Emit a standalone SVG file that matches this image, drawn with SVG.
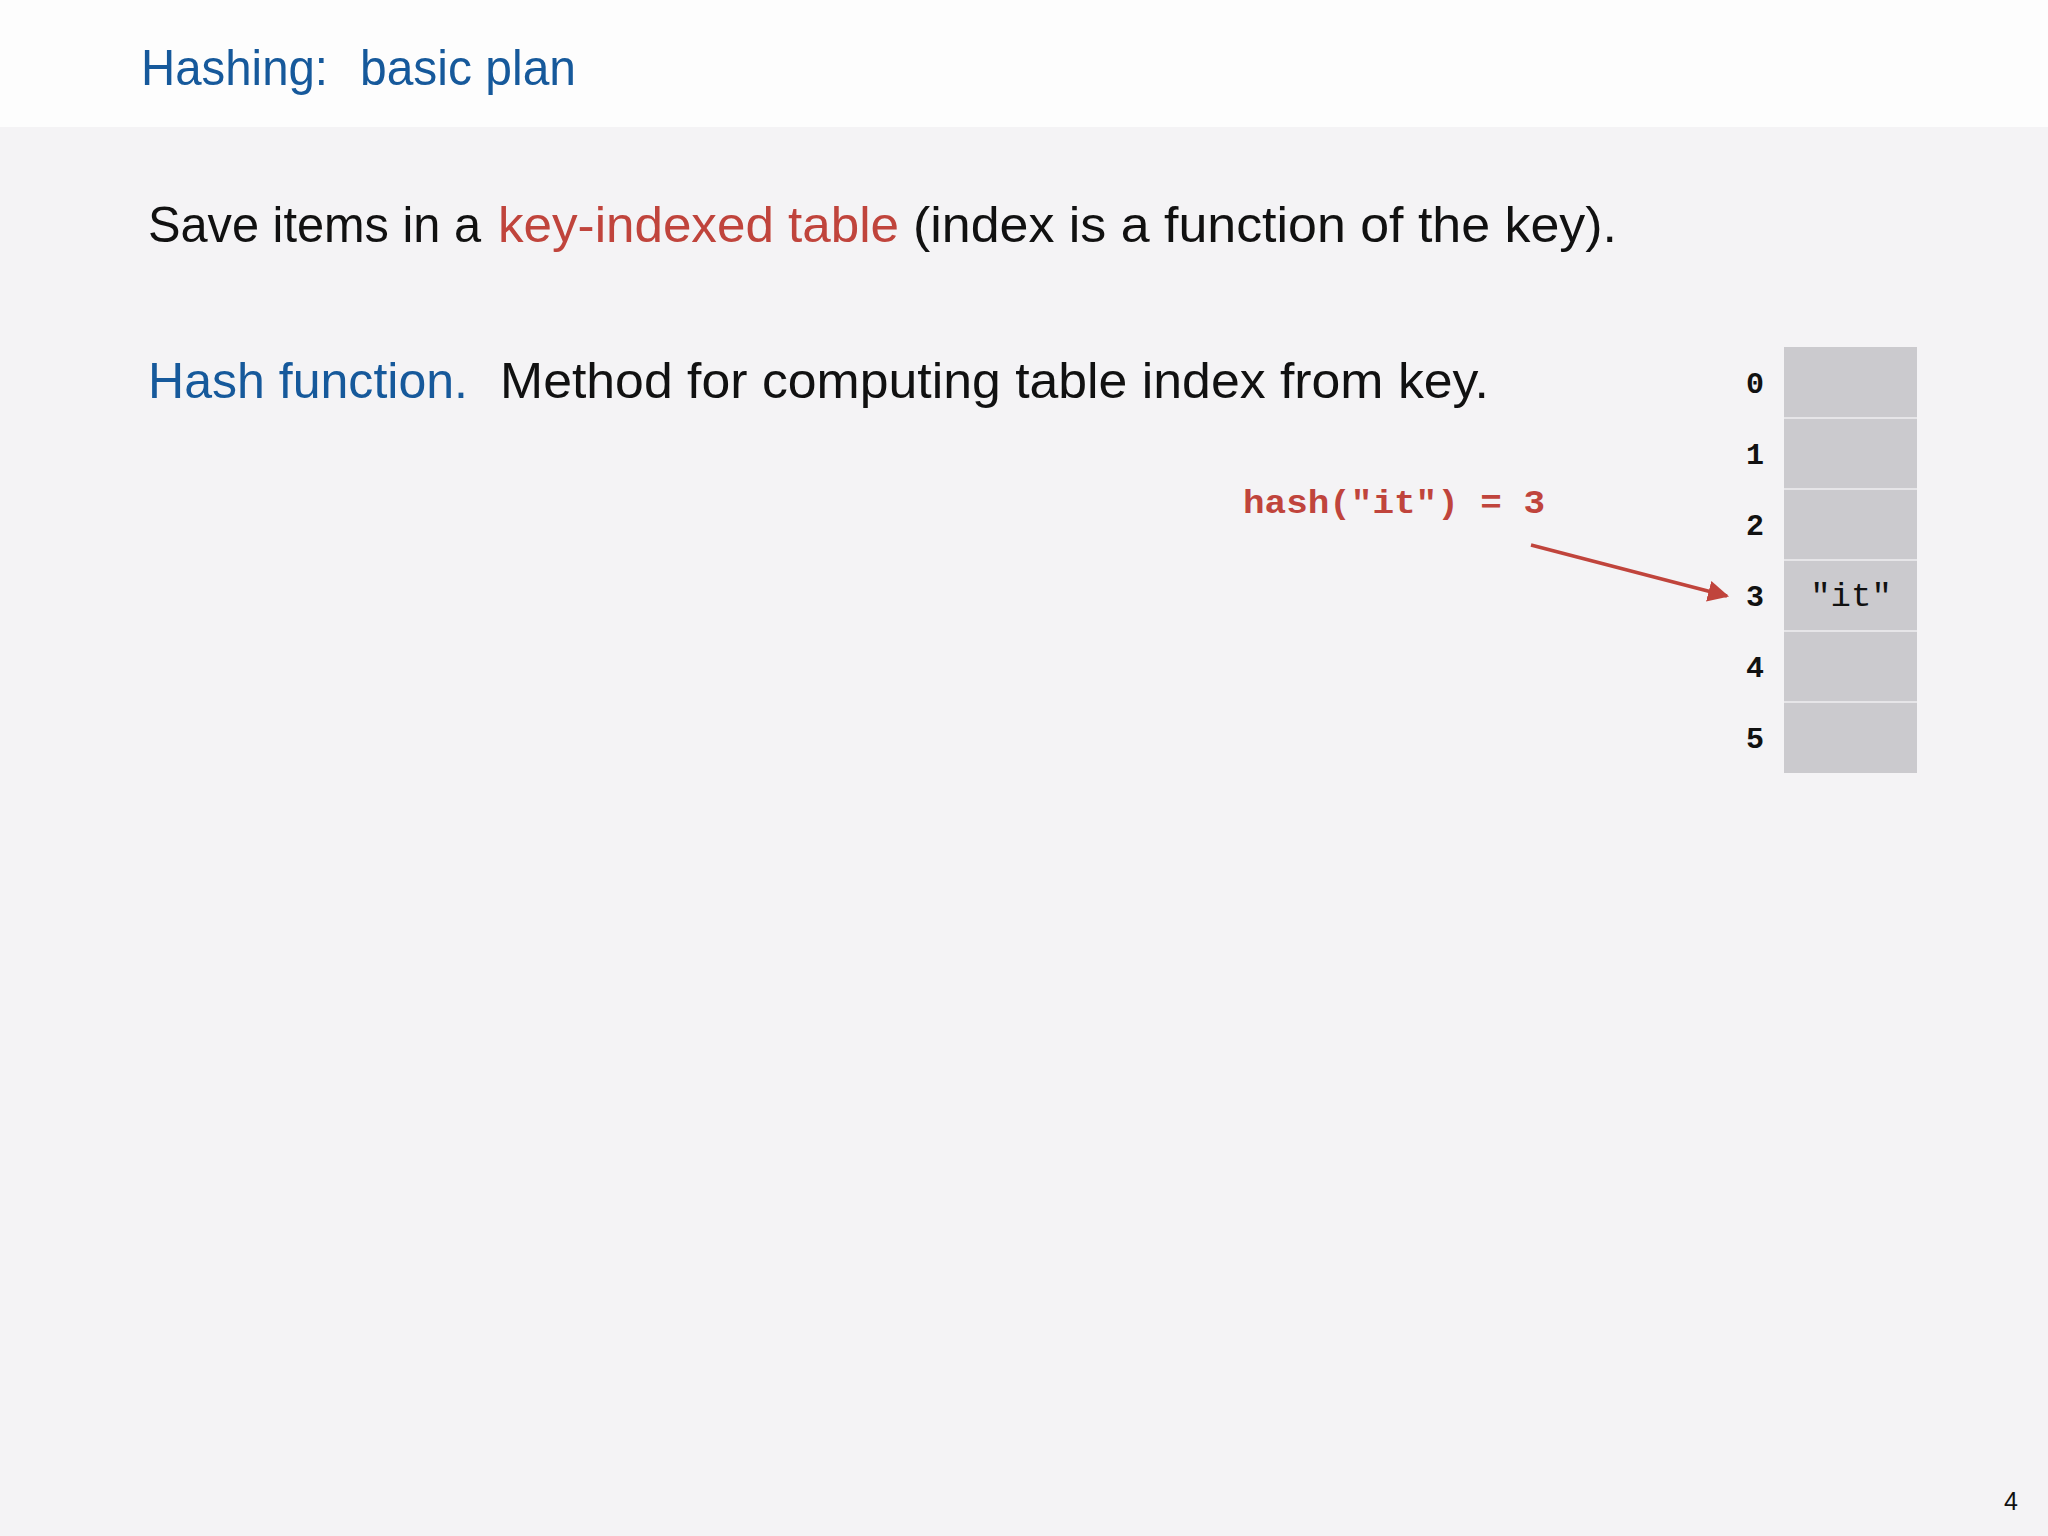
<svg xmlns="http://www.w3.org/2000/svg" width="2048" height="1536" viewBox="0 0 2048 1536">
<defs>
<style>
.hand{font-family:"Liberation Sans","Open Sans",sans-serif;}
.mono{font-family:"Liberation Mono","DejaVu Sans Mono",monospace;font-weight:bold;}
.blue{fill:#16599B;}
.red{fill:#C0443C;}
.blk{fill:#111111;}
.cell{fill:#CBCACE;}
.div{stroke:#E6E5E8;stroke-width:2;}
.idx{font-size:30px;fill:#111;text-anchor:middle;}
</style>
<marker id="ah" viewBox="0 0 10 10" refX="9" refY="5" markerWidth="6" markerHeight="6" markerUnits="strokeWidth" orient="auto">
<path d="M0,0 L10,5 L0,10 z" fill="#C0443C"/>
</marker>
</defs>
<rect x="0" y="0" width="2048" height="1536" fill="#F4F3F5"/>
<rect x="0" y="0" width="2048" height="127" fill="#FDFDFD"/>
<g id="title">
<text class="hand blue" x="141" y="85" font-size="50" textLength="187" lengthAdjust="spacingAndGlyphs">Hashing:</text>
<text class="hand blue" x="360" y="85" font-size="50" textLength="216" lengthAdjust="spacingAndGlyphs">basic plan</text>
</g>
<g id="line1">
<text class="hand blk" x="148" y="242" font-size="50" textLength="333" lengthAdjust="spacingAndGlyphs">Save items in a</text>
<text class="hand red" x="498" y="242" font-size="50" textLength="401" lengthAdjust="spacingAndGlyphs">key-indexed table</text>
<text class="hand blk" x="913" y="242" font-size="50" textLength="704" lengthAdjust="spacingAndGlyphs">(index is a function of the key).</text>
</g>
<g id="line2">
<text class="hand blue" x="148" y="398" font-size="50" textLength="320" lengthAdjust="spacingAndGlyphs">Hash function.</text>
<text class="hand blk" x="500" y="398" font-size="50" textLength="989" lengthAdjust="spacingAndGlyphs">Method for computing table index from key.</text>
</g>
<g id="table">
<rect class="cell" x="1784" y="347" width="133" height="426"/>
<line class="div" x1="1784" y1="418" x2="1917" y2="418"/>
<line class="div" x1="1784" y1="489" x2="1917" y2="489"/>
<line class="div" x1="1784" y1="560" x2="1917" y2="560"/>
<line class="div" x1="1784" y1="631" x2="1917" y2="631"/>
<line class="div" x1="1784" y1="702" x2="1917" y2="702"/>
<text x="1851" y="606" font-size="34" fill="#111" text-anchor="middle" font-family="Liberation Mono, DejaVu Sans Mono, monospace">"it"</text>
</g>
<g id="indices">
<text class="mono idx" x="1755" y="393">0</text>
<text class="mono idx" x="1755" y="464">1</text>
<text class="mono idx" x="1755" y="535">2</text>
<text class="mono idx" x="1755" y="606">3</text>
<text class="mono idx" x="1755" y="677">4</text>
<text class="mono idx" x="1755" y="748">5</text>
</g>
<g id="hashlabel">
<text class="mono red" x="1243" y="513" font-size="34" textLength="302" lengthAdjust="spacingAndGlyphs">hash("it") = 3</text>
</g>
<g id="connectors">
<line x1="1531" y1="545" x2="1727" y2="596" stroke="#C0443C" stroke-width="3.5" marker-end="url(#ah)"/>
</g>
<text class="hand" x="2011" y="1510" font-size="25" fill="#111" text-anchor="middle">4</text>
</svg>
